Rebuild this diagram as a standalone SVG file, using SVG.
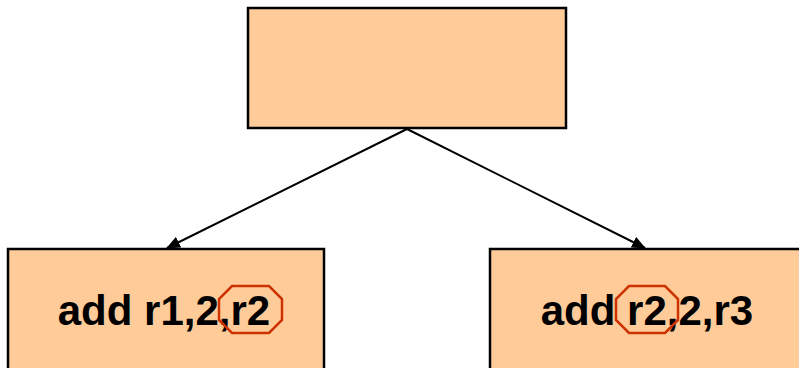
<svg xmlns="http://www.w3.org/2000/svg" width="799" height="368" viewBox="0 0 799 368">
<style>
.box{fill:#FFCC99;stroke:#000;stroke-width:2.5}
.lbl{font-family:"Liberation Sans",Arial,sans-serif;font-weight:bold;font-size:42px;fill:#000;text-anchor:middle}
.oct{fill:none;stroke:#CC3300;stroke-width:2.5}
.conn{stroke:#000;stroke-width:2;fill:none}
</style>
<defs>
<marker id="arr" markerWidth="14" markerHeight="12" refX="13" refY="6" orient="auto" markerUnits="userSpaceOnUse">
<path d="M0,0 L14,6 L0,12 z" fill="#000"/>
</marker>
</defs>
<g id="connectors">
<line class="conn" x1="407" y1="129" x2="167" y2="248" marker-end="url(#arr)"/>
<line class="conn" x1="407" y1="129" x2="645" y2="248" marker-end="url(#arr)"/>
</g>
<g id="top">
<rect class="box" x="248" y="8" width="318" height="120"/>
</g>
<g id="left">
<rect class="box" x="8" y="249" width="316" height="130"/>
<text class="lbl" x="164" y="325">add r1,2,r2</text>
<polygon class="oct" points="232,286 269,286 282,299 282,320 269,333 232,333 219,320 219,299"/>
</g>
<g id="right">
<rect class="box" x="490" y="249" width="320" height="130"/>
<text class="lbl" x="647" y="325">add r2,2,r3</text>
<polygon class="oct" points="629,286 665,286 678,299 678,320 665,333 629,333 616,320 616,299"/>
</g>
</svg>
